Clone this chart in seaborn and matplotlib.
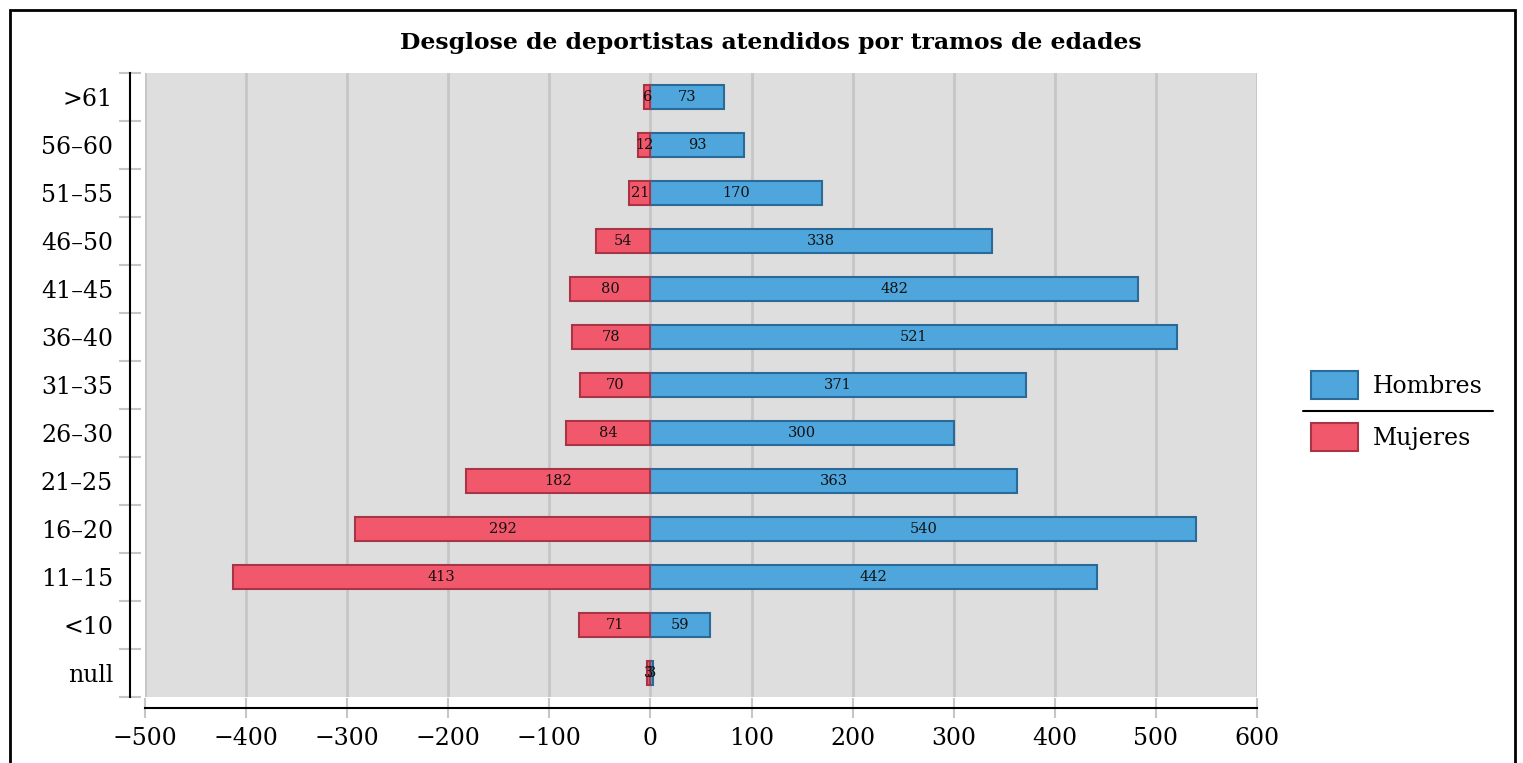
import numpy as np
import pandas as pd
import matplotlib
matplotlib.use('Agg')
import matplotlib.pyplot as plt
import matplotlib.patches as mpatches
from matplotlib.lines import Line2D
import seaborn as sns

# data
tramos = ['>61', '56–60', '51–55', '46–50', '41–45', '36–40', '31–35',
          '26–30', '21–25', '16–20', '11–15', '<10', 'null']
hombres = [73, 93, 170, 338, 482, 521, 371, 300, 363, 540, 442, 59, 3]
mujeres = [6, 12, 21, 54, 80, 78, 70, 84, 182, 292, 413, 71, 3]
xticks = [-500, -400, -300, -200, -100, 0, 100, 200, 300, 400, 500, 600]

azul = '#4ea6dc'
azul_borde = '#2a6a98'
rojo = '#f2586b'
rojo_borde = '#a83445'

sns.set_style('white')
plt.rcParams['font.family'] = ['DejaVu Serif']
plt.rcParams['axes.unicode_minus'] = True
plt.rcParams['text.color'] = 'black'
plt.rcParams['xtick.color'] = 'black'
plt.rcParams['ytick.color'] = 'black'

df = pd.DataFrame({'tramo': tramos + tramos,
                   'valor': hombres + [-v for v in mujeres],
                   'sexo': ['Hombres'] * len(tramos) + ['Mujeres'] * len(tramos)})

fig = plt.figure(figsize=(15.23, 7.63), dpi=100)
ax = fig.add_axes([145 / 1523, 1 - 697 / 763, 1112 / 1523, 624 / 763])
ax.set_facecolor('#dedede')

sns.barplot(data=df, y='tramo', x='valor', hue='sexo', order=tramos,
            hue_order=['Hombres', 'Mujeres'], palette=[azul, rojo],
            dodge=False, width=0.5, orient='h', legend=False, ax=ax,
            edgecolor=None, linewidth=1.5, saturation=1)

for cont, vals, borde in zip(ax.containers, [hombres, mujeres], [azul_borde, rojo_borde]):
    for p in cont:
        p.set_edgecolor(borde)
    ax.bar_label(cont, labels=[str(v) for v in vals], label_type='center',
                 fontsize=10.5, color='#111111')

ax.set_xlim(-500, 600)
ax.set_ylim(len(tramos) - 0.5, -0.5)
ax.set_xticks(xticks)
ax.set_xticklabels([str(t).replace('-', '−') for t in xticks])
ax.grid(axis='x', color='#c6c6c6', linewidth=2)
ax.set_axisbelow(True)
ax.set_xlabel('')
ax.set_ylabel('')

for s in ['top', 'right']:
    ax.spines[s].set_visible(False)
ax.spines['left'].set_position(('outward', 11))
ax.spines['bottom'].set_position(('outward', 8))
ax.spines['left'].set_color('black')
ax.spines['bottom'].set_color('black')
ax.spines['left'].set_linewidth(1.5)
ax.spines['bottom'].set_linewidth(1.5)

ax.tick_params(axis='x', which='major', bottom=True, direction='inout', length=15, width=1.5,
               color='#c6c6c6', labelcolor='black', labelsize=17, pad=6)
ax.tick_params(axis='y', which='major', left=True, length=0, labelcolor='black',
               labelsize=17, pad=12)
ax.set_yticks(np.arange(-0.5, len(tramos), 1), minor=True)
ax.tick_params(axis='y', which='minor', left=True, direction='inout', length=16, width=1.5,
               color='#c6c6c6')

fig.text(0.506, 1 - 43 / 763, 'Desglose de deportistas atendidos por tramos de edades',
         ha='center', va='center', fontsize=16.9, fontweight='bold', color='black')

handles = [mpatches.Patch(facecolor=azul, edgecolor=azul_borde, linewidth=1.5, label='Hombres'),
           mpatches.Patch(facecolor=rojo, edgecolor=rojo_borde, linewidth=1.5, label='Mujeres')]
fig.legend(handles=handles, loc='center left', bbox_to_anchor=(1290 / 1523, 1 - 411 / 763),
           frameon=False, fontsize=17, handlelength=2.0, handleheight=1.45,
           labelspacing=1.0, handletextpad=0.6, labelcolor='black')
fig.add_artist(Line2D([1303 / 1523, 1493 / 1523], [1 - 411 / 763, 1 - 411 / 763],
                      color='black', linewidth=1.5, transform=fig.transFigure))

fig.add_artist(mpatches.Rectangle((10 / 1523, -0.05), 1505 / 1523, 1.05 - 10 / 763,
                                  fill=False, edgecolor='black', linewidth=2,
                                  transform=fig.transFigure))

fig.savefig('out.png', dpi=100)
